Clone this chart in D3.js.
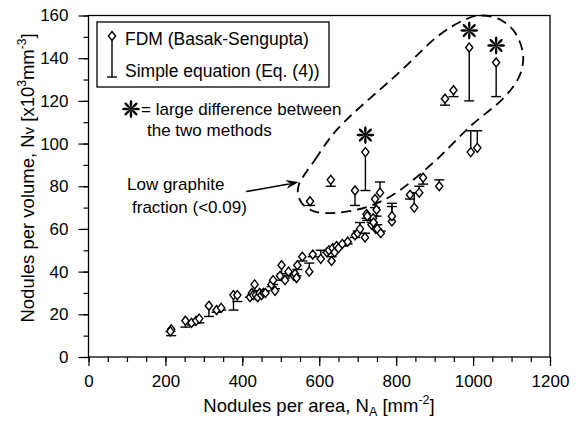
<!DOCTYPE html>
<html>
<head>
<meta charset="utf-8">
<script src="https://cdn.jsdelivr.net/npm/d3@7/dist/d3.min.js"></script>
<style>
  html, body { margin: 0; padding: 0; background: #fff; }
  svg text { font-family: "Liberation Sans", Arial, sans-serif; fill: #000; }
</style>
</head>
<body>
<svg id="chart" width="576" height="427"></svg>
<script>
// ---- data ----
const nodulesPerArea = [215,213,252,268,280,288,313,333,345,377,387,420,425,428,432,435,440,445,450,455,460,476,480,485,498,502,511,520,534,537,541,543,556,574,583,604,620,625,632,635,640,645,650,660,674,693,700,706,719,723,725,736,740,741,745,747,749,751,758,760,789,789,836,847,860,870,912,576,630,693,720,927,949,990,1060,994,1011];
const fdmValues =      [13,12,17,16,17,18,24,22,23,29,29,28,30,29,34,29,28,30,29,30,30,34,36,31,38,43,36,40,38,39,37,43,47,40,48,46,49,50,45,51,49,52,51,53,54,57,58,60,56,67,66,62,65,63,74,60,69,60,77,58,63.5,66,76,70,77,84,80,73,83,78,96,121,125,145,138,96,98];
const equationValues = [10,12,14,15,16,16,19,21,22,22,26,28,29,28,31,29,29,29,30,30,31,33,34,32,36,39,37,38,39,38,38,41,45,44,47,50,49,50,47,50,51,51,52,52,53,56,59,63,58,65,64,63,63,66,70,62,66,62,82,59,72,70.5,74,77,80,81,83,71,80,71,78,118,122,120,122,106,106];
const largeDifferenceNA = [720, 990, 1060];
const xTicks = [0,200,400,600,800,1000,1200];
const yTicks = [0,20,40,60,80,100,120,140,160];
const xMinorTicks = d3.range(0, 1201, 50);
const yMinorTicks = d3.range(0, 161, 10);
// dashed loop around the low graphite fraction points (data coordinates)
const loopNA = [547,589,646,810,914,979,1018,1070,1109,1130,1122,1083,992,896,792,719,646,589,558,545];
const loopNV = [80.7,92.4,106.5,133.7,151.1,158.1,160,158.1,152,141.7,132.3,122,108,91,76,70,67.6,68.1,71.4,76];

const points = nodulesPerArea.map((na, i) => ({na, fdm: fdmValues[i], eq: equationValues[i]}));

// ---- layout ----
const svg = d3.select("#chart");
const x = d3.scaleLinear().domain([0, 1200]).range([88.5, 550]);
const y = d3.scaleLinear().domain([0, 160]).range([357, 15.5]);

// minor ticks
svg.append("g").attr("transform", `translate(0,${y(0)})`)
  .call(d3.axisBottom(x).tickValues(xMinorTicks).tickSize(5).tickFormat(""))
  .call(g => g.select(".domain").remove())
  .selectAll("line").attr("stroke", "#000").attr("stroke-width", 1.2);
svg.append("g").attr("transform", `translate(${x(0)},0)`)
  .call(d3.axisLeft(y).tickValues(yMinorTicks).tickSize(5).tickFormat(""))
  .call(g => g.select(".domain").remove())
  .selectAll("line").attr("stroke", "#000").attr("stroke-width", 1.2);

// major ticks
const gx = svg.append("g").attr("transform", `translate(0,${y(0)})`)
  .call(d3.axisBottom(x).tickValues(xTicks).tickSize(9).tickPadding(9).tickFormat(d3.format("d")));
gx.select(".domain").remove();
gx.selectAll("line").attr("stroke", "#000").attr("stroke-width", 1.2);
gx.selectAll("text").attr("font-size", 17).attr("font-family", "Liberation Sans, Arial, sans-serif").attr("fill", "#000");

const gy = svg.append("g").attr("transform", `translate(${x(0)},0)`)
  .call(d3.axisLeft(y).tickValues(yTicks).tickSize(10).tickPadding(10).tickFormat(d3.format("d")));
gy.select(".domain").remove();
gy.selectAll("line").attr("stroke", "#000").attr("stroke-width", 1.2);
gy.selectAll("text").attr("font-size", 17).attr("font-family", "Liberation Sans, Arial, sans-serif").attr("fill", "#000");

// frame
svg.append("rect")
  .attr("x", x(0)).attr("y", y(160))
  .attr("width", x(1200) - x(0)).attr("height", y(0) - y(160))
  .attr("fill", "none").attr("stroke", "#000").attr("stroke-width", 1.3);

// axis titles
const xt = svg.append("text").attr("x", 319).attr("y", 412).attr("text-anchor", "middle").attr("font-size", 18.5);
xt.append("tspan").text("Nodules per area, N");
xt.append("tspan").attr("font-size", 12.5).attr("dy", 4).text("A");
xt.append("tspan").attr("dy", -4).text(" [mm");
xt.append("tspan").attr("font-size", 12.5).attr("dy", -8).text("-2");
xt.append("tspan").attr("dy", 8).text("]");

const yt = svg.append("text").attr("transform", "translate(34,178) rotate(-90)")
  .attr("text-anchor", "middle").attr("font-size", 18.5);
yt.append("tspan").text("Nodules per volume, N");
yt.append("tspan").attr("font-size", 15).text("v");
yt.append("tspan").text(" [x10");
yt.append("tspan").attr("font-size", 12).attr("dy", -8).text("3");
yt.append("tspan").attr("dy", 8).text("mm");
yt.append("tspan").attr("font-size", 12).attr("dy", -8).text("-3");
yt.append("tspan").attr("dy", 8).text("]");

// dashed loop
const loopData = loopNA.map((v, i) => [v, loopNV[i]]);
svg.append("path")
  .attr("d", d3.line().x(d => x(d[0])).y(d => y(d[1])).curve(d3.curveCatmullRomClosed.alpha(0.5))(loopData))
  .attr("fill", "none").attr("stroke", "#000").attr("stroke-width", 1.8)
  .attr("stroke-dasharray", "10,6");

// markers
const diamond = (cx, cy) => `M${cx},${cy - 4.5}L${cx + 3.6},${cy}L${cx},${cy + 4.5}L${cx - 3.6},${cy}Z`;
const gm = svg.append("g");
gm.selectAll("line.stem").data(points).join("line")
  .attr("x1", d => x(d.na)).attr("x2", d => x(d.na))
  .attr("y1", d => y(d.fdm)).attr("y2", d => y(d.eq))
  .attr("stroke", "#000").attr("stroke-width", 1.4);
gm.selectAll("line.cap").data(points).join("line")
  .attr("x1", d => x(d.na) - 5).attr("x2", d => x(d.na) + 5)
  .attr("y1", d => y(d.eq)).attr("y2", d => y(d.eq))
  .attr("stroke", "#000").attr("stroke-width", 1.4);
gm.selectAll("path.dia").data(points).join("path")
  .attr("d", d => diamond(x(d.na), y(d.fdm)))
  .attr("fill", "#fff").attr("stroke", "#000").attr("stroke-width", 1.4);

// asterisk glyph
function asteriskPath(r) {
  const w = r * 0.2;
  let p = "";
  for (let k = 0; k < 8; k++) {
    const a = k * Math.PI / 4;
    const rot = (px, py) => [px * Math.cos(a) - py * Math.sin(a), px * Math.sin(a) + py * Math.cos(a)];
    const p0 = rot(0, 0), c1 = rot(w, -r * 0.45), c2 = rot(w, -r * 1.05), e = rot(0, -r * 1.05),
          c3 = rot(-w, -r * 1.05), c4 = rot(-w, -r * 0.45);
    p += `M${p0}C${c1} ${c2} ${e}C${c3} ${c4} ${p0}Z`;
  }
  return p;
}
const starPts = points.filter(d => largeDifferenceNA.includes(d.na) && d.fdm - d.eq > 10);
svg.selectAll("path.star").data(starPts).join("path")
  .attr("transform", d => `translate(${x(d.na)},${y(d.fdm) - 17})`)
  .attr("d", asteriskPath(8.5)).attr("fill", "#000");

// legend
const lg = svg.append("g");
lg.append("rect").attr("x", 97).attr("y", 22).attr("width", 232).attr("height", 65)
  .attr("fill", "#fff").attr("stroke", "#000").attr("stroke-width", 1.3);
lg.append("line").attr("x1", 112).attr("x2", 112).attr("y1", 36).attr("y2", 77)
  .attr("stroke", "#000").attr("stroke-width", 1.4);
lg.append("line").attr("x1", 107).attr("x2", 117).attr("y1", 77).attr("y2", 77)
  .attr("stroke", "#000").attr("stroke-width", 1.4);
lg.append("path").attr("d", diamond(112, 36)).attr("fill", "#fff").attr("stroke", "#000").attr("stroke-width", 1.4);
lg.append("text").attr("x", 125).attr("y", 45).attr("font-size", 17.5).text("FDM (Basak-Sengupta)");
lg.append("text").attr("x", 125).attr("y", 77).attr("font-size", 17.5).text("Simple equation (Eq. (4))");

// asterisk note
svg.append("path").attr("transform", "translate(131,109)").attr("d", asteriskPath(8.5)).attr("fill", "#000");
svg.append("text").attr("x", 141).attr("y", 115).attr("font-size", 17).text("= large difference between");
svg.append("text").attr("x", 147).attr("y", 136).attr("font-size", 17).text("the two methods");

// low graphite annotation
svg.append("text").attr("x", 127).attr("y", 190).attr("font-size", 17).text("Low graphite");
svg.append("text").attr("x", 132).attr("y", 213).attr("font-size", 17).text("fraction (<0.09)");
const tail = [x(410), y(77.5)], tip = [x(547), y(82)];
svg.append("line").attr("x1", tail[0]).attr("y1", tail[1]).attr("x2", tip[0] - 10).attr("y2", tip[1] + 2)
  .attr("stroke", "#000").attr("stroke-width", 1.6);
const ang = Math.atan2(tip[1] - tail[1], tip[0] - tail[0]);
const hl = 13, hw = 4.5;
const bx = tip[0] - hl * Math.cos(ang), by = tip[1] - hl * Math.sin(ang);
svg.append("path")
  .attr("d", `M${tip[0]},${tip[1]}L${bx - hw * Math.sin(ang)},${by + hw * Math.cos(ang)}L${tip[0] - 0.7 * hl * Math.cos(ang)},${tip[1] - 0.7 * hl * Math.sin(ang)}L${bx + hw * Math.sin(ang)},${by - hw * Math.cos(ang)}Z`)
  .attr("fill", "#000");
</script>
</body>
</html>
